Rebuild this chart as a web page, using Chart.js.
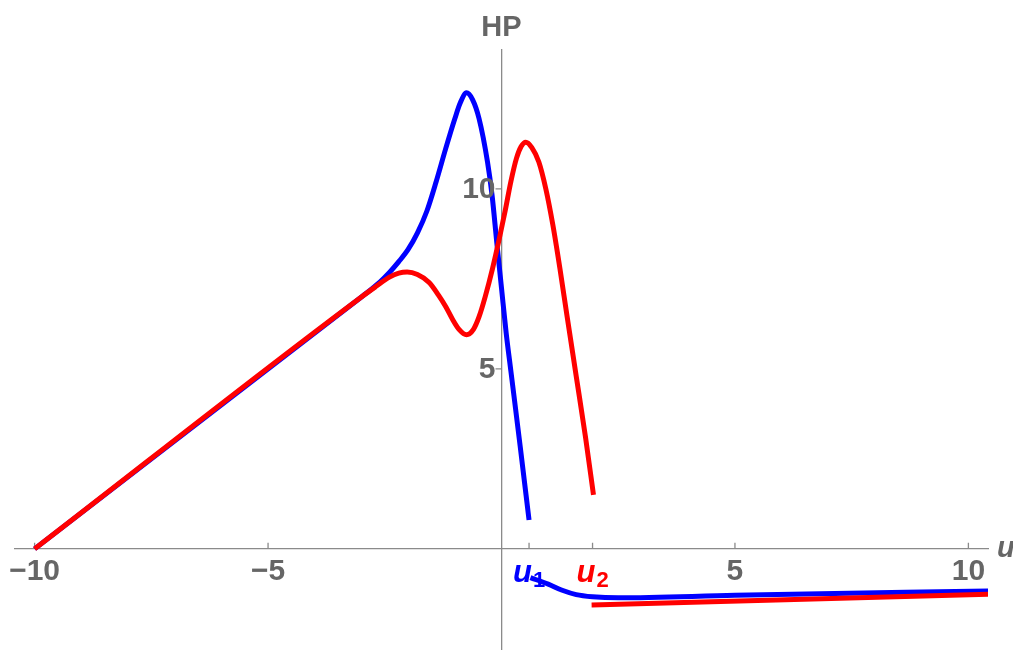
<!DOCTYPE html>
<html>
<head>
<meta charset="utf-8">
<script src="https://cdn.jsdelivr.net/npm/chart.js@4.4.1/dist/chart.umd.min.js"></script>
<style>
    html, body { margin: 0; padding: 0; background: #fff; }
    #wrap { width: 1013px; height: 650px; }
</style>
</head>
<body>
<div id="wrap"><canvas id="hpChart" width="1013" height="650"></canvas></div>
<script>
// u1 branch (blue), upper part up to u1 and lower part from u1 on
const blueUpperU = [-10, -3, -2.8, -2.6, -2.4, -2.2, -2.0, -1.8, -1.6, -1.4, -1.2, -1.0, -0.88, -0.75, -0.62, -0.48, -0.3, -0.2, -0.1, 0, 0.1, 0.2, 0.4, 0.59];
const blueUpperHP = [0, 7, 7.2, 7.42, 7.68, 7.98, 8.32, 8.78, 9.38, 10.2, 11.1, 11.95, 12.4, 12.67, 12.48, 11.95, 10.75, 9.8, 8.5, 7.25, 6.0, 4.95, 2.85, 0.8];
const blueLowerU = [0.62, 1.0, 1.3, 1.6, 1.95, 2.5, 5, 10.5];
const blueLowerHP = [-0.8, -0.98, -1.15, -1.27, -1.33, -1.36, -1.29, -1.17];

// u2 branch (red)
const redUpperU = [-10, -3, -2.7, -2.4, -2.2, -2.02, -1.8, -1.55, -1.35, -1.19, -1.05, -0.91, -0.75, -0.6, -0.48, -0.35, -0.19, -0.05, 0.08, 0.2, 0.32, 0.42, 0.52, 0.65, 0.8, 0.95, 1.1, 1.25, 1.4, 1.6, 1.8, 1.97];
const redUpperHP = [0, 7, 7.28, 7.55, 7.66, 7.69, 7.62, 7.4, 7.05, 6.72, 6.38, 6.1, 5.95, 6.1, 6.45, 7.0, 7.8, 8.6, 9.4, 10.2, 10.85, 11.18, 11.3, 11.15, 10.75, 10.0, 9.0, 7.8, 6.5, 4.8, 3.1, 1.5];
const redLowerU = [1.93, 10.5];
const redLowerHP = [-1.56, -1.26];

const xTickValues = [-10, -5, 5, 10];
const yTickValues = [5, 10];
const markerU = [0.59, 1.95];
const markerSub = ['1', '2'];
const markerColors = ['#0000ff', '#ff0000'];

const toPoints = (xs, ys) => xs.map((x, i) => ({ x: x, y: ys[i] }));

const axisGray = '#8a8a8a';
const labelGray = '#666666';
const fontFamily = '"Liberation Sans", Arial, sans-serif';

const axisDecor = {
    id: 'axisDecor',
    beforeDatasetsDraw(chart) {
        const ctx = chart.ctx;
        const xs = chart.scales.x, ys = chart.scales.y;
        const x0 = xs.getPixelForValue(0), y0 = ys.getPixelForValue(0);
        ctx.save();
        ctx.strokeStyle = axisGray;
        ctx.lineWidth = 1.3;
        ctx.beginPath();
        xTickValues.concat(markerU).forEach(v => {
            const px = xs.getPixelForValue(v);
            ctx.moveTo(px, y0);
            ctx.lineTo(px, y0 - 6);
        });
        yTickValues.forEach(v => {
            const py = ys.getPixelForValue(v);
            ctx.moveTo(x0, py);
            ctx.lineTo(x0 - 6, py);
        });
        ctx.stroke();
        ctx.restore();
    },
    afterDraw(chart) {
        const ctx = chart.ctx;
        const xs = chart.scales.x, ys = chart.scales.y;
        const x0 = xs.getPixelForValue(0), y0 = ys.getPixelForValue(0);
        ctx.save();
        ctx.fillStyle = labelGray;
        // y tick labels
        ctx.font = 'bold 30px ' + fontFamily;
        ctx.textAlign = 'right';
        ctx.textBaseline = 'middle';
        yTickValues.forEach(v => ctx.fillText(String(v), x0 - 6, ys.getPixelForValue(v) + 1));
        // axis names
        ctx.font = 'bold 29px ' + fontFamily;
        ctx.textAlign = 'center';
        ctx.textBaseline = 'alphabetic';
        ctx.fillText('HP', x0, 36);
        ctx.font = 'italic bold 29px ' + fontFamily;
        ctx.textAlign = 'left';
        ctx.fillText('u', 997, y0 + 8);
        // u1, u2 tick labels
        markerU.forEach((v, i) => {
            const px = xs.getPixelForValue(v);
            ctx.fillStyle = markerColors[i];
            ctx.font = 'italic bold 31px ' + fontFamily;
            const wu = ctx.measureText('u').width;
            ctx.font = 'bold 22px ' + fontFamily;
            const ws = ctx.measureText(markerSub[i]).width;
            const left = px - (wu + ws + 1) / 2;
            ctx.textAlign = 'left';
            ctx.font = 'italic bold 31px ' + fontFamily;
            ctx.fillText('u', left, y0 + 33);
            ctx.font = 'bold 22px ' + fontFamily;
            ctx.fillText(markerSub[i], left + wu + 1, y0 + 38);
        });
        ctx.restore();
    }
};

const lineStyle = {
    showLine: true,
    pointRadius: 0,
    borderWidth: 5,
    fill: false,
    cubicInterpolationMode: 'monotone',
    borderCapStyle: 'butt',
    borderJoinStyle: 'round'
};

new Chart(document.getElementById('hpChart'), {
    type: 'scatter',
    data: {
        datasets: [
            { ...lineStyle, label: 'u2', data: toPoints(redUpperU, redUpperHP), borderColor: '#ff0000', order: 0 },
            { ...lineStyle, label: 'u2 low', data: toPoints(redLowerU, redLowerHP), borderColor: '#ff0000', order: 1 },
            { ...lineStyle, label: 'u1', data: toPoints(blueUpperU, blueUpperHP), borderColor: '#0000ff', order: 2 },
            { ...lineStyle, label: 'u1 low', data: toPoints(blueLowerU, blueLowerHP), borderColor: '#0000ff', order: 3 }
        ]
    },
    options: {
        responsive: false,
        animation: false,
        devicePixelRatio: 1,
        layout: { padding: { left: 15, right: 25, top: 50, bottom: 0 } },
        plugins: {
            legend: { display: false },
            tooltip: { enabled: false }
        },
        scales: {
            x: {
                type: 'linear',
                position: { y: 0 },
                min: -10.42,
                max: 10.42,
                afterBuildTicks: s => { s.ticks = xTickValues.map(v => ({ value: v })); },
                grid: { display: false, drawTicks: false },
                border: { display: true, color: axisGray, width: 1.3 },
                ticks: {
                    padding: 5,
                    color: labelGray,
                    maxRotation: 0,
                    autoSkip: false,
                    font: { family: fontFamily, size: 30, weight: 'bold' },
                    callback: v => (v < 0 ? '\u2212' + Math.abs(v) : String(v))
                }
            },
            y: {
                type: 'linear',
                position: { x: 0 },
                min: -2.81,
                max: 13.86,
                afterBuildTicks: s => { s.ticks = yTickValues.map(v => ({ value: v })); },
                grid: { display: false, drawTicks: false },
                border: { display: true, color: axisGray, width: 1.3 },
                ticks: { display: false }
            }
        }
    },
    plugins: [axisDecor]
});
</script>
</body>
</html>
